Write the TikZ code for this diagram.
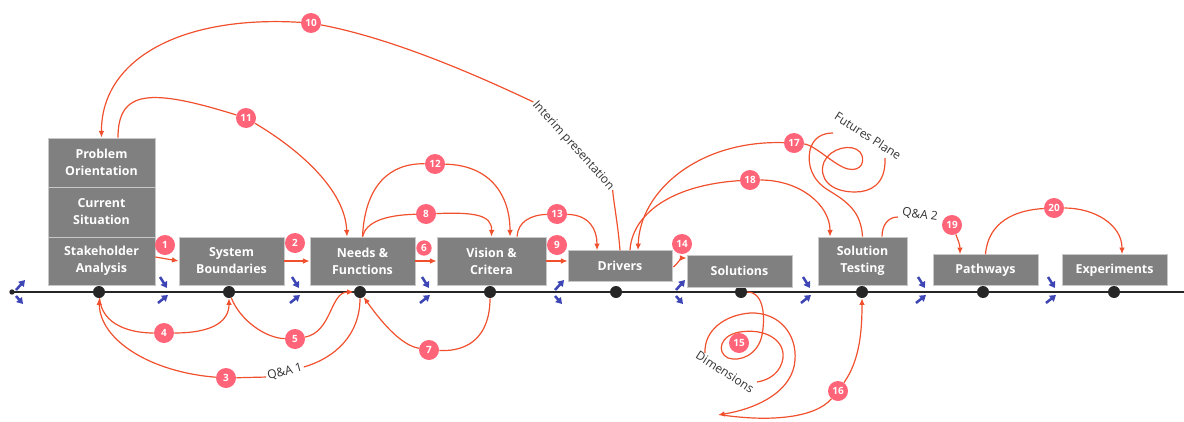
\documentclass[tikz,border=0pt]{standalone}
\usepackage{fontspec}
\setmainfont{Open Sans}
\usetikzlibrary{calc,arrows.meta}
\definecolor{boxgray}{HTML}{808080}
\definecolor{boxedge}{HTML}{C8C8C8}
\definecolor{flowred}{HTML}{F0502D}
\definecolor{badgered}{HTML}{FF6478}
\definecolor{phaseblue}{HTML}{3D46B4}
\definecolor{axisdark}{HTML}{262626}
\definecolor{lbltext}{HTML}{333333}
\begin{document}
\begin{tikzpicture}[x=0.75pt,y=-0.75pt,
  box/.style={draw=boxedge, line width=0.6pt, fill=boxgray, text=white,
    font=\fontsize{9.3}{12.75}\selectfont\bfseries, align=center, inner sep=0pt},
  tdot/.style={circle, fill=axisdark, inner sep=0pt, minimum size=9pt},
  badge/.style={circle, fill=badgered, text=white,
    font=\fontsize{7.5}{8}\selectfont\bfseries, inner sep=0pt, minimum size=15pt},
  flow/.style={draw=flowred, line width=0.9pt},
  flowarrow/.style={flow, -{Latex[length=5pt,width=4.2pt]}},
  phasearrow/.style={draw=phaseblue, line width=1.9pt, -{Triangle[length=4.5pt,width=5.5pt]}},
  lbl/.style={text=lbltext, font=\fontsize{9}{10}\selectfont, inner sep=1pt}
]
\useasboundingbox (0,0) rectangle (1184,421);

% ---------- time axis ----------
\coordinate (axstart) at (12,292);
\coordinate (axend) at (1184,292);
\draw[axisdark, line width=1.2pt] (axstart) -- (axend);
\node[tdot, minimum size=4pt] (d0) at (12,292) {};
\foreach \n/\x in {1/99,2/229,3/360,4/490,5/616,6/741,7/862,8/983,9/1114}
  \node[tdot] (d\n) at (\x,292) {};

% ---------- boxes ----------
\node[box, minimum width=80.25pt, minimum height=36.75pt] (PO) at (101.5,162.5) {Problem\\Orientation};
\node[box, minimum width=80.25pt, minimum height=37.5pt] (CS) at (101.5,212) {Current\\Situation};
\node[box, minimum width=80.25pt, minimum height=36pt] (SA) at (101.5,261) {Stakeholder\\Analysis};
\node[box, minimum width=78.75pt, minimum height=36pt] (SB) at (231.5,261) {System\\Boundaries};
\node[box, minimum width=78.75pt, minimum height=36pt] (NF) at (362.5,261) {Needs \&\\Functions};
\node[box, minimum width=81.75pt, minimum height=36pt] (VC) at (491.5,261) {Vision \&\\Critera};
\node[box, minimum width=78pt, minimum height=23pt] (DR) at (620,266) {Drivers};
\node[box, minimum width=78.75pt, minimum height=24pt] (SO) at (739.5,271) {Solutions};
\node[box, minimum width=66.75pt, minimum height=36pt] (ST) at (862.5,261) {Solution\\Testing};
\node[box, minimum width=78.75pt, minimum height=23pt] (PW) at (985.5,270) {Pathways};
\node[box, minimum width=78.75pt, minimum height=23pt] (EX) at (1114.5,270) {Experiments};

% ---------- badges ----------
\node[badge] (c1) at (165,245) {1};
\node[badge] (c2) at (295,243) {2};
\node[badge] (c3) at (226,378) {3};
\node[badge] (c4) at (164,333) {4};
\node[badge] (c5) at (295,339) {5};
\node[badge, minimum size=11.5pt] (c6) at (424,248) {6};
\node[badge] (c7) at (429,350) {7};
\node[badge] (c8) at (426,214) {8};
\node[badge] (c9) at (557,245) {9};
\node[badge] (c10) at (311,23) {10};
\node[badge] (c11) at (246,118) {11};
\node[badge] (c12) at (435,164) {12};
\node[badge] (c13) at (557,214) {13};
\node[badge] (c14) at (682,244) {14};
\node[badge] (c15) at (739,343) {15};
\node[badge] (c16) at (838,391) {16};
\node[badge] (c17) at (794,143) {17};
\node[badge] (c18) at (750,180) {18};
\node[badge] (c19) at (952,225) {19};
\node[badge] (c20) at (1054,208) {20};

% ---------- labels ----------
\node[lbl, rotate=-48] (interim) at (573,146) {Interim presentation};
\node[lbl, rotate=15] (qa1) at (285,372) {Q\&A 1};
\node[lbl, rotate=-8] (qa2) at (920,215) {Q\&A 2};
\node[lbl, rotate=-33] (futures) at (868,136) {Futures Plane};
\node[lbl, rotate=-33] (dims) at (725,372) {Dimensions};
\coordinate (fpA) at (833,133);
\coordinate (fpB) at (885,158);
\coordinate (dmA) at (757,382);
\coordinate (dmB) at (705,353);
\coordinate (dmEnd) at (718,415);
\coordinate (qa2A) at (898,217);

% ---------- straight steps ----------
\draw[flowarrow] ($(SA.east)+(0,-4)$) -- (SB.west);
\draw[flowarrow] (SB.east) -- (NF.west);
\draw[flowarrow] (NF.east) -- (VC.west);
\draw[flowarrow] (VC.east) -- (VC.east -| DR.west);
\draw[flowarrow] ($(DR.east)+(1,1)$) .. controls (679,262) and (681,258) .. ($(SO.west)+(0,-13)$);

% ---------- upper loops ----------
% 10
\draw[flow] (DR.north) .. controls (618,225) and (614,205) .. (interim.east);
\draw[flowarrow] (interim.west) .. controls (470,72) and (390,38) .. (c10)
   .. controls (180,15) and (101,60) .. (PO.north);
% 11
\draw[flowarrow] ($(PO.north)+(16.5,0)$) .. controls (118,90) and (150,88) .. (c11)
   .. controls (300,150) and (345,190) .. ($(NF.north)+(-15.5,0)$);
% 12
\draw[flowarrow] (NF.north) .. controls (365,185) and (390,163) .. (c12)
   .. controls (490,165) and (510,195) .. ($(VC.north)+(18.5,0)$);
% 8
\draw[flowarrow] (NF.north) .. controls (366,222) and (385,215) .. (c8)
   .. controls (475,212) and (492,215) .. (VC.north);
% 13
\draw[flowarrow] ($(VC.north)+(25.5,0)$) .. controls (518,222) and (530,215) .. (c13)
   .. controls (590,215) and (597,230) .. ($(DR.north)+(-23,0)$);
% 18
\draw[flowarrow] ($(DR.north)+(10,0)$) .. controls (632,215) and (670,185) .. (c18)
   .. controls (800,180) and (830,205) .. ($(ST.north)+(-32.5,0)$);
% 17 (futures plane)
\draw[flow] (ST.north) .. controls (861,212) and (848,202) .. (828,190)
   .. controls (812,180) and (807,165) .. (810,150)
   .. controls (813,138) and (822,133) .. (fpA);
\draw[flowarrow] (fpB) .. controls (886,185) and (870,192) .. (855,192)
   .. controls (830,192) and (818,178) .. (824,162)
   .. controls (830,148) and (852,143) .. (860,152)
   .. controls (866,160) and (862,172) .. (848,169)
   .. controls (835,166) and (815,145) .. (c17)
   .. controls (700,140) and (640,190) .. ($(DR.north)+(18,0)$);
% Q&A 2 and 19
\draw[flow] ($(ST.north)+(19.5,0)$) .. controls (882,225) and (888,217) .. (qa2A);
\draw[flowarrow] (c19) .. controls (958,240) and (960,245) .. ($(PW.north)+(-25.5,0)$);
% 20
\draw[flowarrow] (PW.north) .. controls (988,222) and (1015,210) .. (c20)
   .. controls (1095,208) and (1122,225) .. ($(EX.north)+(7.5,0)$);

% ---------- lower loops ----------
% 4
\draw[flowarrow] (d1) .. controls (102,325) and (130,333) .. (c4)
   .. controls (215,333) and (229,320) .. (d2);
% 5
\draw[flowarrow] (d2) .. controls (240,320) and (265,338) .. (c5)
   .. controls (332,332) and (330,292) .. (d3);
% 3
\draw[flow] (d3) .. controls (360,335) and (335,358) .. (qa1.east);
\draw[flowarrow] (qa1.west) -- (c3) .. controls (150,372) and (100,340) .. (d1);
% 7
\draw[flowarrow] (d4) .. controls (490,335) and (470,352) .. (c7)
   .. controls (400,345) and (380,320) .. (d3);
% 15 spiral
\draw[flow] (d6) .. controls (765,292) and (765,320) .. (762,335)
   .. controls (758,355) and (740,362) .. (728,358)
   .. controls (716,352) and (720,335) .. (740,332)
   .. controls (765,328) and (785,340) .. (783,358)
   .. controls (781,372) and (770,380) .. (dmA);
\draw[flowarrow] (dmB) .. controls (704,330) and (725,315) .. (750,313)
   .. controls (780,312) and (797,335) .. (795,360)
   .. controls (793,390) and (760,408) .. (dmEnd);
% 16
\draw[flowarrow] ($(dmEnd)+(4,0)$) .. controls (770,422) and (815,418) .. (c16)
   .. controls (860,360) and (862,330) .. (d7);

% ---------- phase markers ----------
\foreach \x in {163,295,425,806,921,1051}{
  \draw[phasearrow] (\x-3,277) -- (\x+4,288);
  \draw[phasearrow] (\x-5,303) -- (\x+5,295);
}
\foreach \x in {20,559,680}{
  \draw[phasearrow] (\x-4,290) -- (\x+5,280);
  \draw[phasearrow] (\x-4,296) -- (\x+3,304);
}
\end{tikzpicture}
\end{document}
